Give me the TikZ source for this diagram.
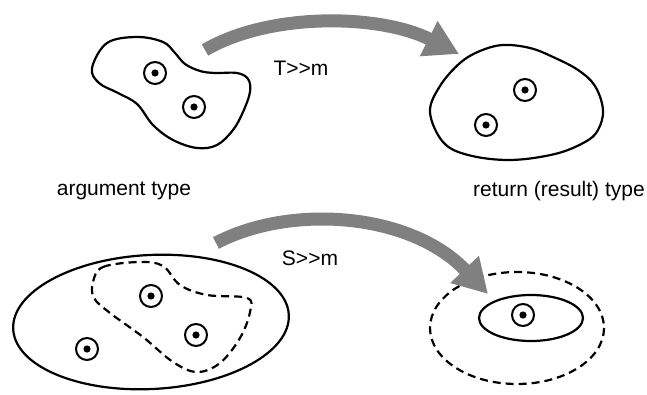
\documentclass[tikz,border=0pt]{standalone}
\usepackage{fontspec}
\setmainfont{Liberation Sans}
\usetikzlibrary{arrows.meta}
\definecolor{arrowgray}{RGB}{128,128,128}
\begin{document}
\begin{tikzpicture}[x=1pt,y=-1pt,
  outline/.style={line width=2.2pt, black},
  dashline/.style={line width=2.2pt, black, dash pattern=on 8pt off 5pt},
  elem/.style={circle, draw, line width=2pt, minimum size=22pt, inner sep=0pt,
    path picture={\fill[black] (path picture bounding box.center) circle (3.6pt);}},
  bigarrow/.style={draw=arrowgray, line width=13pt, -{Triangle[length=34pt,width=37pt,fill=arrowgray]}},
  lbl/.style={font=\fontsize{21}{25}\selectfont, inner sep=0pt}
]
\useasboundingbox (0,0) rectangle (647,395);

% top-left blob (argument type)
\draw[outline] plot[smooth cycle, tension=0.6] coordinates {
  (92,68) (107,43) (137,37) (163,42) (175,53) (185,64) (200,71) (215,73)
  (237,73) (248,79) (250,92) (243,112) (233,130) (217,145) (197,148)
  (173,140) (153,125) (137,104) (118,93) (99,83)};
\node[elem] (d1) at (155,73) {};
\node[elem] (d2) at (194,107) {};

% top-right blob (result type)
\draw[outline] plot[smooth cycle, tension=0.6] coordinates {
  (430,112) (440,86) (460,63) (480,51) (503,45) (530,48) (553,57) (578,70)
  (595,86) (603,110) (598,130) (585,142) (555,154) (510,160) (468,155) (443,142)};
\node[elem] (d3) at (525,90) {};
\node[elem] (d4) at (486,125) {};

% labels
\node[lbl] (argt) at (124,191) {argument type};
\node[lbl] (rest) at (559,191) {return (result) type};
\node[lbl] (tm) at (301,68) {T>{}>m};
\node[lbl] (sm) at (310,258) {S>{}>m};

% top arrow
\coordinate (a1s) at (205,50);
\coordinate (a1e) at (459,54);
\draw[bigarrow] (a1s) .. controls (270,12) and (380,14) .. (a1e);

% bottom-left ellipse
\draw[outline, rotate around={3:(151,322)}] (151,322) ellipse [x radius=138, y radius=67];
\draw[dashline] plot[smooth cycle, tension=0.6] coordinates {
  (93,282) (103,267) (140,262) (163,266) (180,285) (207,295) (247,298)
  (250,312) (240,338) (220,363) (197,372) (173,362) (143,337) (110,313) (94,298)};
\node[elem] (d5) at (151,296) {};
\node[elem] (d6) at (196,335) {};
\node[elem] (d7) at (87,349) {};

% bottom-right ellipses
\draw[dashline] (517,328) ellipse [x radius=87, y radius=56];
\draw[outline] (531,318) ellipse [x radius=52, y radius=23];
\node[elem] (d8) at (523,315) {};

% bottom arrow
\coordinate (a2s) at (216,243);
\coordinate (a2e) at (488,294);
\draw[bigarrow] (a2s) .. controls (290,204) and (410,212) .. (a2e);
\end{tikzpicture}
\end{document}
